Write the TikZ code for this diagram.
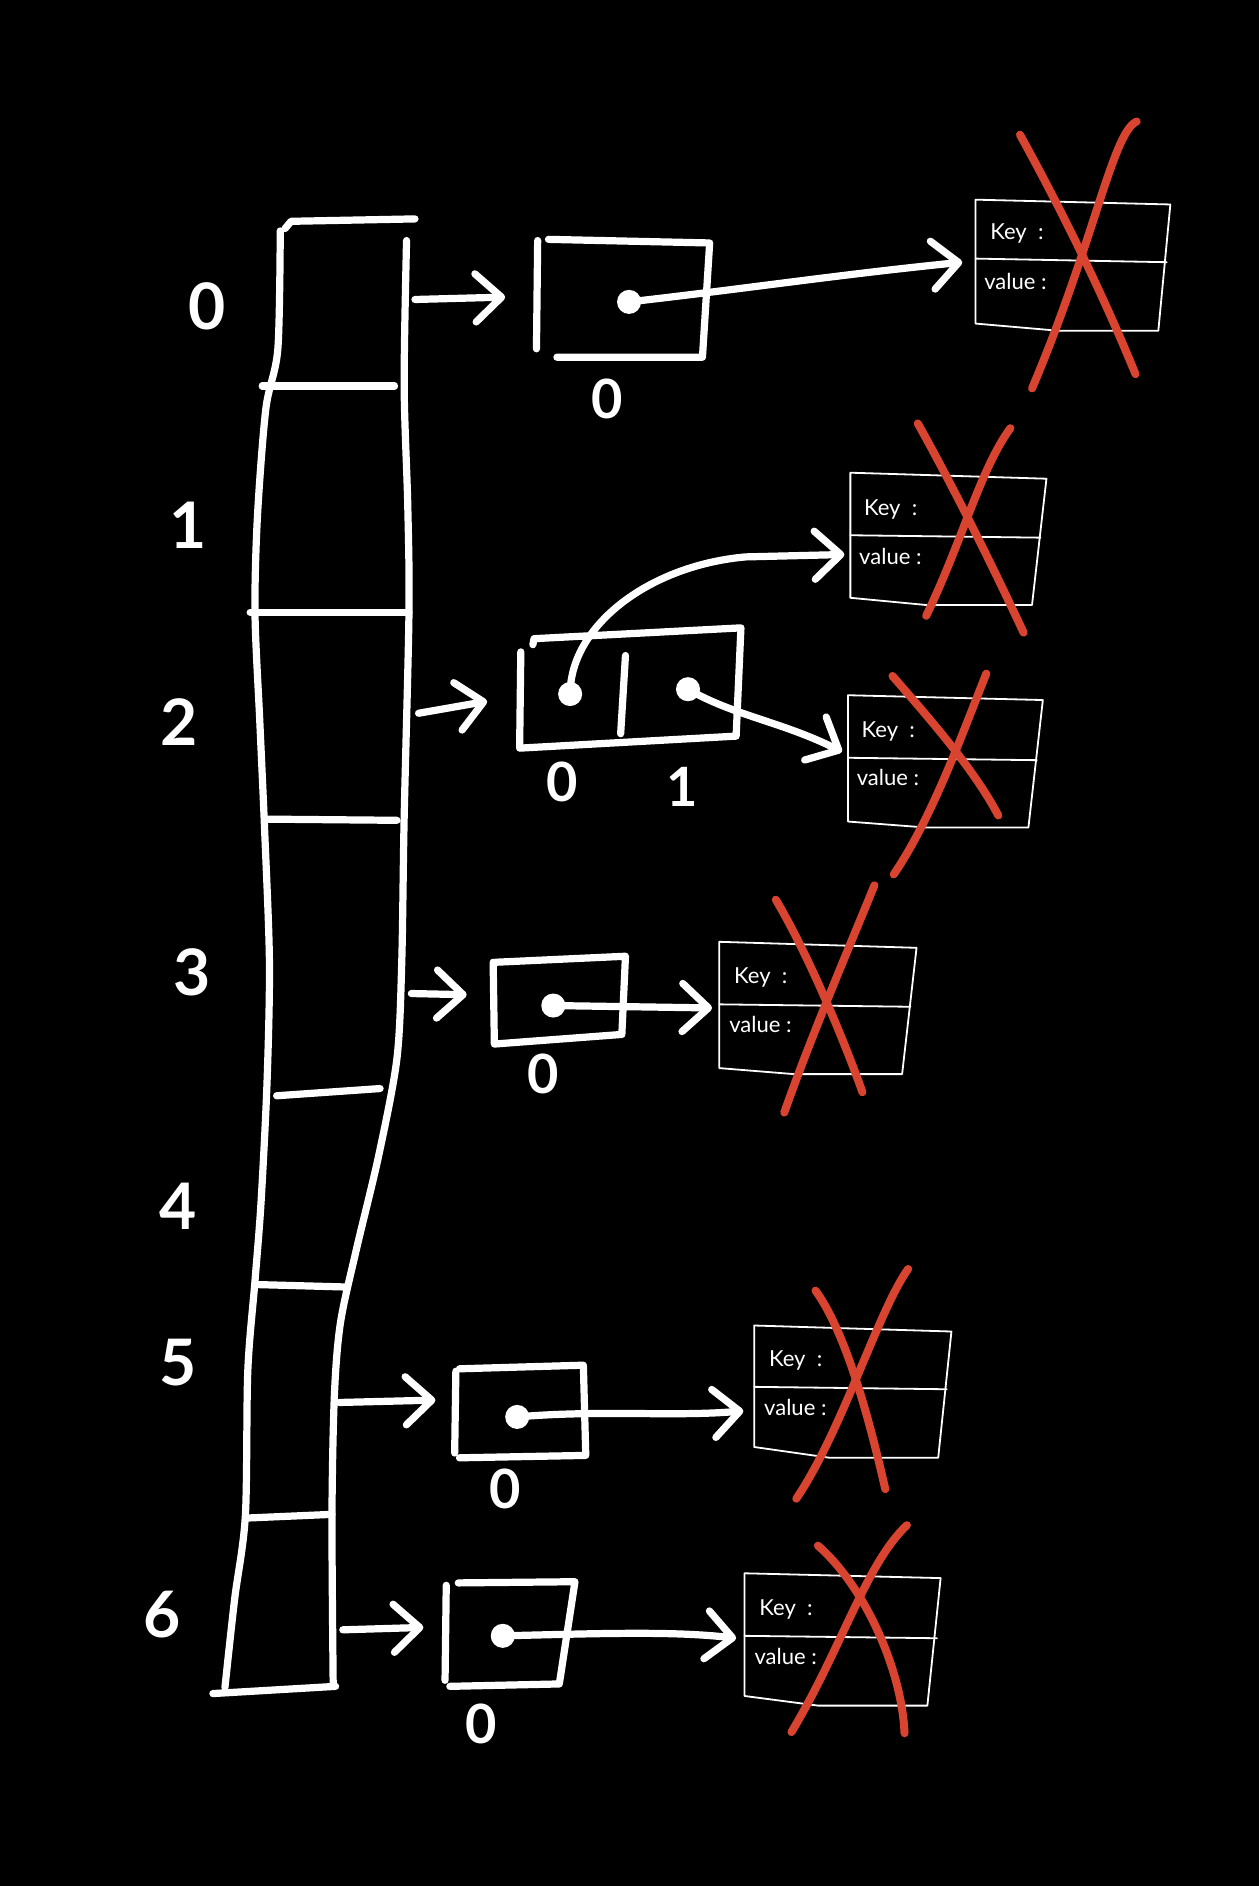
\documentclass[tikz,border=0pt]{standalone}
\usepackage{fontspec}
\setmainfont{Lato}
\usetikzlibrary{arrows.meta}
\definecolor{xred}{RGB}{217,68,48}
\tikzset{
  hand/.style={white, line width=3.6pt, line cap=round, line join=round},
  thin/.style={white, line width=0.9pt, line cap=round, line join=round},
  ptr/.style={hand, -{Straight Barb[length=13pt,width=24pt,line cap=round,line join=round]}},
  cross/.style={xred, line width=4pt, line cap=round},
  dot/.style={circle, fill=white, inner sep=0pt, minimum size=12pt},
  idx/.style={white, font=\fontsize{32}{32}\selectfont\bfseries},
  sub/.style={white, font=\fontsize{27}{27}\selectfont\bfseries},
  kv/.style={white, font=\fontsize{11}{11}\selectfont, anchor=west, inner sep=0pt}
}
\begin{document}
\begin{tikzpicture}[x=0.6pt,y=-0.6pt]
\fill[black] (0,0) rectangle (1047,1568);
\useasboundingbox (0,0) rectangle (1047,1568);

% ---------- main array ----------
\draw[hand] (237,190) -- (242,184) -- (345,182);
\draw[hand] plot[smooth,tension=0.5] coordinates {(233,192) (231,290) (221,340) (214,430) (212,510) (216,600) (220,690) (224,800) (222,900) (217,1000) (212,1065) (206,1140) (204,1260) (195,1330) (187,1403)};
\draw[hand] plot[smooth,tension=0.5] coordinates {(338,200) (336,320) (339,420) (340,510) (336,680) (334,800) (330,880) (315,960) (296,1040) (283,1100) (278,1160) (276,1260) (277,1400)};
\draw[hand] (177,1408) -- (279,1402);
\draw[hand] (218,321) -- (328,321);
\draw[hand] (208,509) -- (340,509);
\draw[hand] (220,681) -- (330,682);
\draw[hand] (230,911) -- (316,905);
\draw[hand] (215,1068) -- (288,1070);
\draw[hand] (207,1262) -- (276,1259);

\node[idx] (i0) at (172,255) {0};
\node[idx] (i1) at (156,437) {1};
\node[idx] (i2) at (149,600) {2};
\node[idx] (i3) at (160,808) {3};
\node[idx] (i4) at (148,1003) {4};
\node[idx] (i5) at (148,1133) {5};
\node[idx] (i6) at (135,1342) {6};

% ---------- array -> bucket arrows ----------
\coordinate (a0) at (345,249); \coordinate (b0) at (420,247);
\coordinate (a2) at (348,593); \coordinate (b2) at (405,583);
\coordinate (a3) at (342,826); \coordinate (b3) at (388,827);
\coordinate (a5) at (282,1166); \coordinate (b5) at (362,1164);
\coordinate (a6) at (285,1355); \coordinate (b6) at (352,1353);
\draw[ptr] (a0) -- (b0);
\draw[ptr] (a2) -- (b2);
\draw[ptr] (a3) -- (b3);
\draw[ptr] (a5) -- (b5);
\draw[ptr] (a6) -- (b6);

% ---------- bucket boxes ----------
% row 0
\draw[hand] (447,200) -- (446,290);
\draw[hand] (456,199) -- (590,202) -- (584,297) -- (463,297);
\node[dot] (d0) at (523,251) {};
\node[sub] (s0) at (505,332) {0};
% row 2
\draw[hand] (433,542) -- (432,622) -- (612,612) -- (616,522) -- (444,531) -- (443,536);
\draw[hand] (520,545) -- (516,610);
\node[dot] (d2a) at (474,577) {};
\node[dot] (d2b) at (572,573) {};
\node[sub] (s2a) at (467,650) {0};
\node[sub] (s2b) at (567,654) {1};
% row 3
\draw[hand] (410,800) -- (411,868) -- (517,860) -- (520,795) -- (412,800);
\node[dot] (d3) at (460,836) {};
\node[sub] (s3) at (452,893) {0};
% row 5
\draw[hand] (379,1140) -- (378,1208);
\draw[hand] (382,1212) -- (487,1210) -- (485,1135) -- (382,1138);
\node[dot] (d5) at (430,1178) {};
\node[sub] (s5) at (420,1238) {0};
% row 6
\draw[hand] (371,1318) -- (370,1397);
\draw[hand] (374,1402) -- (465,1400) -- (478,1315) -- (381,1316);
\node[dot] (d6) at (418,1360) {};
\node[sub] (s6) at (400,1433) {0};

% ---------- pointer arrows to entries ----------
\coordinate (e0) at (800,218);
\coordinate (e1) at (702,461);
\coordinate (e2) at (700,625);
\coordinate (e3) at (592,838);
\coordinate (e5) at (618,1173);
\coordinate (e6) at (612,1362);
\draw[ptr] (d0.center) .. controls (620,240) and (700,228) .. (e0);
\draw[ptr] (d2a.center) .. controls (474,520) and (540,470) .. (620,463) -- (e1);
\draw[ptr] (d2b.center) .. controls (610,595) and (650,600) .. (e2);
\draw[ptr] (d3.center) -- (e3);
\draw[ptr] (d5.center) .. controls (500,1172) and (560,1178) .. (e5);
\draw[ptr] (d6.center) .. controls (500,1358) and (560,1356) .. (e6);

% ---------- key/value tables ----------
% T0
\draw[thin] (811,166) -- (973,170) -- (963,275) -- (880,275) -- (811,269) -- cycle;
\draw[thin] (811,215) -- (970,218);
\node[kv] (k0) at (823,194) {Key\ \ :};
\node[kv] (v0) at (818,234) {value :};
% T1
\draw[thin] (707,393) -- (870,398) -- (858,503) -- (770,503) -- (707,497) -- cycle;
\draw[thin] (707,445) -- (865,447);
\node[kv] (k1) at (718,424) {Key\ \ :};
\node[kv] (v1) at (714,463) {value :};
% T2
\draw[thin] (705,578) -- (867,582) -- (855,688) -- (770,688) -- (705,683) -- cycle;
\draw[thin] (705,630) -- (862,632);
\node[kv] (k2) at (716,608) {Key\ \ :};
\node[kv] (v2) at (712,646) {value :};
% T3
\draw[thin] (598,783) -- (762,788) -- (750,893) -- (660,893) -- (598,888) -- cycle;
\draw[thin] (598,835) -- (757,837);
\node[kv] (k3) at (610,813) {Key\ \ :};
\node[kv] (v3) at (606,852) {value :};
% T5
\draw[thin] (627,1102) -- (791,1107) -- (780,1212) -- (690,1212) -- (627,1203) -- cycle;
\draw[thin] (627,1153) -- (787,1155);
\node[kv] (k5) at (639,1131) {Key\ \ :};
\node[kv] (v5) at (635,1170) {value :};
% T6
\draw[thin] (619,1308) -- (782,1312) -- (771,1418) -- (680,1418) -- (619,1410) -- cycle;
\draw[thin] (619,1360) -- (779,1362);
\node[kv] (k6) at (631,1338) {Key\ \ :};
\node[kv] (v6) at (627,1377) {value :};

% ---------- red crosses ----------
\draw[cross] (848,112) .. controls (880,170) and (915,240) .. (944,311);
\draw[cross] (945,101) .. controls (925,110) and (910,200) .. (858,323);
\draw[cross] (763,352) .. controls (790,400) and (825,470) .. (851,526);
\draw[cross] (840,356) .. controls (815,390) and (800,450) .. (770,512);
\draw[cross] (742,562) .. controls (775,600) and (810,640) .. (830,678);
\draw[cross] (820,560) .. controls (800,610) and (775,680) .. (743,727);
\draw[cross] (645,748) .. controls (670,790) and (700,860) .. (717,908);
\draw[cross] (727,736) .. controls (705,790) and (675,860) .. (652,925);
\draw[cross] (678,1073) .. controls (705,1110) and (725,1190) .. (736,1238);
\draw[cross] (755,1055) .. controls (730,1090) and (700,1190) .. (662,1246);
\draw[cross] (680,1285) .. controls (720,1320) and (750,1390) .. (752,1441);
\draw[cross] (754,1268) .. controls (720,1300) and (700,1370) .. (658,1440);
\end{tikzpicture}
\end{document}
